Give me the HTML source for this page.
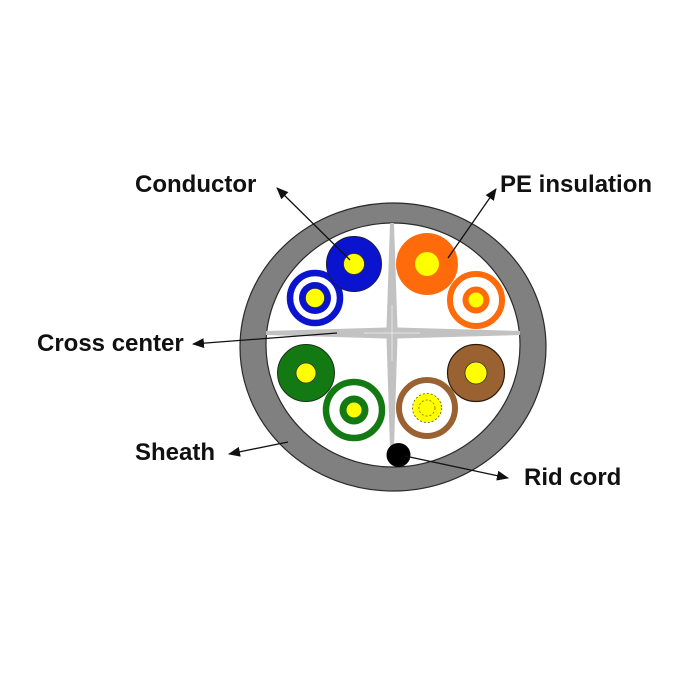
<!DOCTYPE html>
<html>
<head>
<meta charset="utf-8">
<style>
html,body{margin:0;padding:0;background:#fff;}
svg{display:block;}
text{font-family:"Liberation Sans",Arial,sans-serif;font-weight:bold;font-size:24px;fill:#111;}
</style>
</head>
<body>
<svg width="700" height="700" viewBox="0 0 700 700" xmlns="http://www.w3.org/2000/svg">
<defs>
<marker id="ah" markerWidth="12" markerHeight="10" refX="11" refY="5" orient="auto" markerUnits="userSpaceOnUse">
<path d="M0,0 L12,5 L0,10 Z" fill="#111"/>
</marker>
</defs>
<rect width="700" height="700" fill="#fff"/>

<!-- sheath -->
<ellipse cx="393" cy="347" rx="153" ry="144" fill="#808080" stroke="#2a2a2a" stroke-width="1.2"/>
<ellipse cx="393" cy="345" rx="127" ry="122" fill="#ffffff" stroke="#2a2a2a" stroke-width="1.2"/>

<!-- cross center -->
<g fill="#c2c2c2">
<polygon points="390,223 394,223 397.5,328 392,333 386.5,328"/>
<polygon points="390,448 394,448 397.5,338 392,333 386.5,338"/>
<polygon points="266,331 266,335 387,338.5 392,333 387,327.5"/>
<polygon points="520,331 520,335 397,338.5 392,333 397,327.5"/>
</g>
<g stroke="#e4e4e4" stroke-width="1">
<line x1="392" y1="305" x2="392" y2="361"/>
<line x1="364" y1="333" x2="420" y2="333"/>
</g>

<!-- blue striped -->
<circle cx="315" cy="298" r="25" fill="#fff" stroke="#0a14cf" stroke-width="6.5"/>
<circle cx="315" cy="298" r="16" fill="#0a14cf"/>
<circle cx="315" cy="298" r="9.5" fill="#ffff00" stroke="#333" stroke-width="0.6"/>
<!-- blue solid -->
<circle cx="354" cy="264" r="27.5" fill="#0a14cf" stroke="#1a1a40" stroke-width="1"/>
<circle cx="354" cy="264" r="10.5" fill="#ffff00" stroke="#333" stroke-width="0.8"/>

<!-- orange striped -->
<circle cx="476" cy="300" r="26" fill="#fff" stroke="#ff6a0a" stroke-width="6"/>
<circle cx="476" cy="300" r="13.5" fill="#ff6a0a"/>
<circle cx="476" cy="300" r="7.5" fill="#ffff00"/>
<!-- orange solid -->
<circle cx="427" cy="264" r="31" fill="#ff6a0a"/>
<circle cx="427" cy="264" r="12" fill="#ffff00"/>

<!-- green solid -->
<circle cx="306" cy="373" r="28.5" fill="#137a13" stroke="#1a301a" stroke-width="1"/>
<circle cx="306" cy="373" r="10" fill="#ffff00" stroke="#333" stroke-width="0.8"/>
<!-- green striped -->
<circle cx="354" cy="410" r="28" fill="#fff" stroke="#137a13" stroke-width="6.5"/>
<circle cx="354" cy="410" r="14.5" fill="#137a13"/>
<circle cx="354" cy="410" r="7.5" fill="#ffff00"/>

<!-- brown solid -->
<circle cx="476" cy="373" r="28.5" fill="#9a6230" stroke="#2a1a0a" stroke-width="1.2"/>
<circle cx="476" cy="373" r="11" fill="#ffff00" stroke="#333" stroke-width="0.8"/>
<!-- brown striped -->
<circle cx="427" cy="408" r="28" fill="#fff" stroke="#9a6230" stroke-width="6"/>
<circle cx="427" cy="408" r="14.5" fill="#ffff00" stroke="#665500" stroke-width="0.8" stroke-dasharray="2,2"/>
<circle cx="427" cy="408" r="8" fill="none" stroke="#665500" stroke-width="0.7" stroke-dasharray="2,2"/>

<!-- rid cord -->
<circle cx="398.5" cy="455" r="12" fill="#000"/>

<!-- arrows -->
<g stroke="#111" stroke-width="1.3" fill="none" marker-end="url(#ah)">
<line x1="350" y1="260" x2="277" y2="188"/>
<line x1="448" y1="258" x2="496" y2="189"/>
<line x1="337" y1="333" x2="193" y2="344"/>
<line x1="288" y1="442" x2="229" y2="454"/>
<line x1="405" y1="456" x2="508" y2="478"/>
</g>

<!-- labels -->
<text x="135" y="192">Conductor</text>
<text x="500" y="192">PE insulation</text>
<text x="37" y="351">Cross center</text>
<text x="135" y="460">Sheath</text>
<text x="524" y="485">Rid cord</text>
</svg>
</body>
</html>
